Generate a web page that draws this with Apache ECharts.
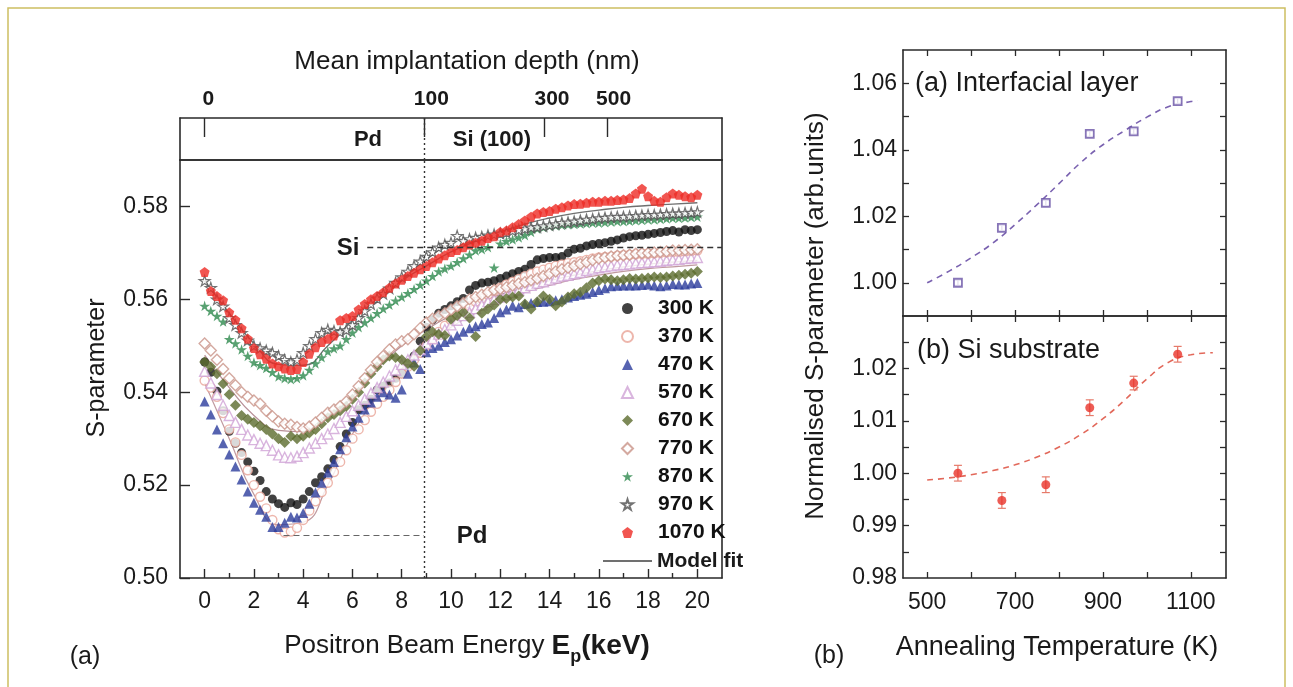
<!DOCTYPE html>
<html><head><meta charset="utf-8">
<script src="https://cdn.jsdelivr.net/npm/echarts@6/dist/echarts.min.js"></script>
<style>html,body{margin:0;padding:0;background:#fff}#c{width:1293px;height:687px}</style>
</head><body><div id="c"></div>
<script>
// ---------------- data: left panel ----------------
const energy = [0,0.25,0.5,0.75,1,1.25,1.5,1.75,2,2.25,2.5,2.75,3,3.25,3.5,3.75,4,4.25,4.5,4.75,5,5.25,5.5,5.75,6,6.25,6.5,6.75,7,7.25,7.5,7.75,8,8.25,8.5,8.75,9,9.25,9.5,9.75,10,10.25,10.5,10.75,11,11.25,11.5,11.75,12,12.25,12.5,12.75,13,13.25,13.5,13.75,14,14.25,14.5,14.75,15,15.25,15.5,15.75,16,16.25,16.5,16.75,17,17.25,17.5,17.75,18,18.25,18.5,18.75,19,19.25,19.5,19.75,20];

const s300 = [.5465,.5443,.5402,.5360, .5316,.5290,.5270,.5250, .5230,.5210,.5186,.5170, .5160,.5152,.5162,.5158, .5170,.5186,.5205,.5218, .5235,.5255,.5283,.5310, .5335,.5362,.5372,.5385, .5405,.5413,.5420,.5430, .5440,.5458,.5478,.5510, .5540,.5556,.5570,.5578, .5586,.5595,.5602,.5620, .5630,.5635,.5637,.5640, .5645,.5650,.5655,.5660, .5665,.5675,.5685,.5688, .5690,.5690,.5692,.5700, .5708,.5710,.5715,.5718, .5720,.5722,.5725,.5728, .5732,.5735,.5737,.5738, .5740,.5742,.5744,.5746, .5748,.5745,.5750,.5748, .5750];
const s370 = [.5425,.5410,.5390,.5355, .5320,.5292,.5265,.5232, .5200,.5175,.5150,.5125, .5105,.5098,.5100,.5108, .5125,.5145,.5165,.5185, .5205,.5228,.5250,.5275, .5300,.5320,.5340,.5358, .5375,.5390,.5405,.5422, .5440,.5455,.5470,.5485, .5500,.5515,.5530,.5543, .5555,.5565,.5575,.5585, .5595,.5602,.5610,.5618, .5625,.5632,.5638,.5644, .5650,.5655,.5660,.5664, .5668,.5672,.5675,.5678, .5680,.5682,.5685,.5688, .5690,.5691,.5692,.5694, .5695,.5696,.5697,.5698, .5698,.5699,.5700,.5701, .5702,.5702,.5703,.5704, .5705];
const s470 = [.5380,.5352,.5320,.5290, .5266,.5240,.5212,.5186, .5162,.5147,.5132,.5110, .5110,.5119,.5132,.5130, .5140,.5160,.5184,.5205, .5227,.5250,.5277,.5303, .5326,.5345,.5363,.5378, .5390,.5400,.5395,.5388, .5406,.5440,.5464,.5450, .5486,.5495,.5500,.5508, .5514,.5522,.5530,.5538, .5542,.5547,.5550,.5560, .5572,.5578,.5586,.5583, .5590,.5592,.5594,.5595, .5596,.5598,.5600,.5604, .5607,.5610,.5612,.5616, .5620,.5624,.5628,.5629, .5630,.5630,.5630,.5631, .5632,.5630,.5628,.5630, .5633,.5632,.5632,.5634, .5635];
const s570 = [.5445,.5420,.5395,.5372, .5350,.5335,.5320,.5308, .5298,.5290,.5285,.5275, .5265,.5260,.5259,.5262, .5270,.5280,.5290,.5300, .5310,.5322,.5335,.5348, .5360,.5372,.5385,.5398, .5410,.5422,.5435,.5448, .5460,.5470,.5480,.5492, .5505,.5515,.5525,.5535, .5545,.5555,.5565,.5572, .5580,.5588,.5595,.5600, .5605,.5610,.5615,.5620, .5625,.5630,.5635,.5638, .5642,.5646,.5650,.5652, .5655,.5658,.5662,.5665, .5668,.5670,.5672,.5674, .5675,.5676,.5678,.5679, .5680,.5681,.5682,.5684, .5685,.5686,.5688,.5689, .5690];
const s670 = [.5465,.5455,.5440,.5418, .5395,.5372,.5350,.5342, .5335,.5328,.5320,.5310, .5300,.5292,.5305,.5300, .5305,.5312,.5320,.5332, .5345,.5352,.5360,.5370, .5385,.5400,.5420,.5440, .5455,.5470,.5478,.5475, .5470,.5462,.5456,.5490, .5520,.5530,.5525,.5522, .5557,.5565,.5572,.5560, .5520,.5570,.5579,.5588, .5600,.5602,.5605,.5607, .5590,.5579,.5595,.5607, .5600,.5586,.5594,.5605, .5612,.5615,.5625,.5635, .5640,.5644,.5642,.5640, .5642,.5645,.5644,.5645, .5646,.5648,.5647,.5648, .5650,.5652,.5654,.5656, .5660];
const s770 = [.5505,.5490,.5470,.5450, .5430,.5415,.5400,.5390, .5382,.5375,.5360,.5348, .5337,.5332,.5330,.5325, .5322,.5326,.5335,.5345, .5356,.5363,.5370,.5380, .5395,.5413,.5430,.5448, .5465,.5478,.5492,.5503, .5510,.5514,.5525,.5538, .5550,.5558,.5564,.5570, .5578,.5585,.5592,.5600, .5605,.5610,.5615,.5620, .5622,.5626,.5630,.5634, .5637,.5641,.5645,.5650, .5655,.5660,.5665,.5668, .5672,.5676,.5680,.5684, .5688,.5690,.5692,.5694, .5695,.5696,.5698,.5699, .5700,.5701,.5702,.5703, .5705,.5705,.5706,.5707, .5708];
const s870 = [.5586,.5575,.5564,.5552, .5514,.5505,.5492,.5478, .5464,.5458,.5452,.5443, .5434,.5430,.5428,.5430, .5436,.5448,.5462,.5475, .5488,.5494,.5500,.5514, .5528,.5540,.5550,.5560, .5570,.5580,.5588,.5597, .5605,.5613,.5622,.5631, .5640,.5650,.5660,.5666, .5672,.5680,.5688,.5696, .5705,.5708,.5712,.5668, .5720,.5725,.5729,.5733, .5738,.5745,.5752,.5755, .5758,.5759,.5760,.5761, .5762,.5763,.5764,.5765, .5765,.5766,.5767,.5768, .5768,.5769,.5770,.5771, .5772,.5772,.5773,.5774, .5775,.5775,.5776,.5777, .5778];
const s970 = [.5640,.5625,.5600,.5585, .5560,.5545,.5528,.5512, .5500,.5495,.5490,.5485, .5478,.5470,.5465,.5470, .5485,.5500,.5515,.5528, .5535,.5532,.5530,.5534, .5545,.5560,.5575,.5590, .5602,.5612,.5624,.5636, .5648,.5660,.5672,.5682, .5692,.5702,.5712,.5718, .5722,.5737,.5726,.5730, .5733,.5735,.5738,.5740, .5742,.5744,.5748,.5750, .5752,.5755,.5756,.5758, .5760,.5762,.5765,.5766, .5768,.5770,.5772,.5773, .5775,.5776,.5777,.5778, .5778,.5779,.5780,.5781, .5782,.5782,.5783,.5784, .5785,.5785,.5786,.5787, .5788];
const s1070 = [.5659,.5618,.5607,.5598, .5572,.5556,.5538,.5515, .5495,.5482,.5472,.5462, .5456,.5451,.5448,.5450, .5465,.5483,.5497,.5508, .5515,.5522,.5555,.5560, .5564,.5578,.5590,.5600, .5607,.5615,.5625,.5634, .5642,.5650,.5657,.5665, .5672,.5680,.5688,.5695, .5702,.5706,.5712,.5718, .5722,.5726,.5732,.5736, .5745,.5748,.5755,.5762, .5770,.5778,.5785,.5788, .5790,.5795,.5798,.5802, .5805,.5806,.5808,.5810, .5810,.5812,.5812,.5814, .5815,.5818,.5828,.5838, .5822,.5812,.5810,.5820, .5828,.5825,.5822,.5820, .5825];

const fitEnergy = [0,1,2,3,4,5,6,7,8,9,10,11,12,13,14,15,16,17,18,19,20];
const fitHigh = [.5640,.5570,.5505,.5460,.5458,.5500,.5555,.5600,.5640,.5672,.5702,.5725,.5745,.5762,.5775,.5785,.5792,.5798,.5802,.5805,.5808];
const fitMid  = [.5480,.5410,.5350,.5318,.5315,.5345,.5390,.5450,.5500,.5535,.5565,.5590,.5610,.5625,.5640,.5652,.5662,.5670,.5676,.5680,.5684];
const fitLow  = [.5420,.5300,.5180,.5115,.5120,.5200,.5310,.5390,.5450,.5500,.5540,.5570,.5595,.5615,.5630,.5643,.5652,.5660,.5666,.5670,.5674];

const energyTicks = [0,2,4,6,8,10,12,14,16,18,20];
const energyMinor = [1,3,5,7,9,11,13,15,17,19];
const sTicks = [0.50,0.52,0.54,0.56,0.58];
const depthLabels = ['0','100','300','500'];
const depthTickE = [0,8.9,13.8,16.35];
const depthLabelE = [0.15,9.2,14.1,16.6];
const interfaceE = 8.9;
const siLevel = 0.5713;
const pdLevel = 0.5093;

// ---------------- data: right panel ----------------
const tempK = [570,670,770,870,970,1070];
const interfS = [1.0000,1.0165,1.0240,1.0448,1.0455,1.0546];
const interfErr = [0.0008,0.0008,0.0008,0.0008,0.0008,0.0008];
const substrS = [1.0000,0.9948,0.9978,1.0125,1.0172,1.0227];
const substrErr = [0.0015,0.0015,0.0015,0.0015,0.0013,0.0015];
const interfFitT = [500,550,600,650,700,750,800,850,900,950,1000,1050,1100,1115];
const interfFit  = [1.0000,1.0035,1.0075,1.0120,1.0175,1.0235,1.0298,1.0362,1.0415,1.0458,1.0498,1.0530,1.0545,1.0548];
const substrFitT = [500,550,600,650,700,750,800,850,900,950,1000,1050,1100,1150];
const substrFit  = [0.9987,0.9991,0.9997,1.0005,1.0016,1.0031,1.0050,1.0074,1.0104,1.0140,1.0180,1.0212,1.0226,1.0230];
const tempTicks = [500,600,700,800,900,1000,1100];
const tempLabels = [500,700,900,1100];

// ---------------- chart ----------------
const FF = '"Liberation Sans", Arial, Helvetica, sans-serif';
const AX = '#2a2a2a';
const chart = echarts.init(document.getElementById('c'));

const star = 'path://M50,0 L61,35 L98,35 L68,57 L79,91 L50,70 L21,91 L32,57 L2,35 L39,35 Z';
const pent = 'path://M50,0 L100,38 L81,100 L19,100 L0,38 Z';

function pts(xs, ys){ return xs.map((x,i)=>[x, ys[i]]); }

const scatterDefs = [
  ['300 K', s300, 'circle', 9, {color:'#111'}],
  ['370 K', s370, 'circle', 9, {color:'#fff', borderColor:'#e9a497', borderWidth:1.4}],
  ['470 K', s470, 'triangle', 10, {color:'#2c3c9c'}],
  ['570 K', s570, 'triangle', 10, {color:'#fff', borderColor:'#cfa3d6', borderWidth:1.4}],
  ['670 K', s670, 'diamond', 11, {color:'#5b6c2d'}],
  ['770 K', s770, 'diamond', 11, {color:'#fff', borderColor:'#c99488', borderWidth:1.4}],
  ['870 K', s870, star, 11, {color:'#2e8a4d'}],
  ['970 K', s970, star, 11, {color:'#fff', borderColor:'#505050', borderWidth:1.2}],
  ['1070 K', s1070, pent, 10, {color:'#ee2b24'}]
];

const series = [];
// model fit lines
series.push({type:'line', name:'Model fit', xAxisIndex:0, yAxisIndex:0, data:pts(fitEnergy, fitHigh), smooth:true, symbol:'none', lineStyle:{color:'#707070', width:1.4}, itemStyle:{color:'#707070'}, z:1});
series.push({type:'line', name:'fitMid', xAxisIndex:0, yAxisIndex:0, data:pts(fitEnergy, fitMid), smooth:true, symbol:'none', lineStyle:{color:'#b89098', width:1.2}, z:1});
series.push({type:'line', name:'fitLow', xAxisIndex:0, yAxisIndex:0, data:pts(fitEnergy, fitLow), smooth:true, symbol:'none', lineStyle:{color:'#c09aa0', width:1.2}, z:1});

scatterDefs.forEach(d=>{
  series.push({type:'scatter', name:d[0], xAxisIndex:0, yAxisIndex:0, data:pts(energy, d[1]), symbol:d[2], symbolSize:d[3], symbolKeepAspect:true, itemStyle:d[4], z:2});
});

// annotation lines in main panel
series.push({type:'line', name:'annot', xAxisIndex:0, yAxisIndex:0, data:[], silent:true,
  markLine:{silent:true, symbol:'none', label:{show:false}, animation:false,
    data:[
      [{coord:[interfaceE,0.50], lineStyle:{type:[2,3], color:'#333', width:1.4}}, {coord:[interfaceE,0.59]}],
      [{coord:[6.6,siLevel], lineStyle:{type:[6,4], color:'#333', width:1.4}}, {coord:[21,siLevel]}],
      [{coord:[3.2,pdLevel], lineStyle:{type:[6,4], color:'#666', width:1.2}}, {coord:[interfaceE,pdLevel]}]
    ]}});
// dotted line in the depth box
series.push({type:'line', name:'annot2', xAxisIndex:3, yAxisIndex:2, data:[], silent:true,
  markLine:{silent:true, symbol:'none', label:{show:false}, animation:false,
    data:[[{coord:[interfaceE,0], lineStyle:{type:[2,3], color:'#333', width:1.4}}, {coord:[interfaceE,1]}]]}});

// right panels
function errItem(params, api){
  const x = api.value(0), lo = api.value(1), hi = api.value(2);
  const p1 = api.coord([x, lo]), p2 = api.coord([x, hi]);
  const w = 4, st = {stroke: api.visual('color'), lineWidth: 1.2};
  return {type:'group', children:[
    {type:'line', shape:{x1:p1[0],y1:p1[1],x2:p2[0],y2:p2[1]}, style:st},
    {type:'line', shape:{x1:p1[0]-w,y1:p1[1],x2:p1[0]+w,y2:p1[1]}, style:st},
    {type:'line', shape:{x1:p2[0]-w,y1:p2[1],x2:p2[0]+w,y2:p2[1]}, style:st}]};
}
series.push({type:'line', name:'interfFit', xAxisIndex:5, yAxisIndex:4, data:pts(interfFitT, interfFit), smooth:true, symbol:'none', lineStyle:{color:'#7a62b0', width:1.6, type:[6,5]}, z:1});
series.push({type:'custom', name:'interfErr', xAxisIndex:5, yAxisIndex:4, renderItem:errItem, itemStyle:{color:'#6a54a6'}, encode:{x:0,y:[1,2]},
  data: tempK.map((t,i)=>[t, interfS[i]-interfErr[i], interfS[i]+interfErr[i]]), z:2});
series.push({type:'scatter', name:'interf', xAxisIndex:5, yAxisIndex:4, data:pts(tempK, interfS), symbol:'rect', symbolSize:8, itemStyle:{color:'#fff', borderColor:'#6a54a6', borderWidth:1.8}, z:3});

series.push({type:'line', name:'substrFit', xAxisIndex:7, yAxisIndex:6, data:pts(substrFitT, substrFit), smooth:true, symbol:'none', lineStyle:{color:'#e2685a', width:1.6, type:[6,5]}, z:1});
series.push({type:'custom', name:'substrErr', xAxisIndex:7, yAxisIndex:6, renderItem:errItem, itemStyle:{color:'#e67a6a'}, encode:{x:0,y:[1,2]},
  data: tempK.map((t,i)=>[t, substrS[i]-substrErr[i], substrS[i]+substrErr[i]]), z:2});
series.push({type:'scatter', name:'substr', xAxisIndex:7, yAxisIndex:6, data:pts(tempK, substrS), symbol:'circle', symbolSize:9, itemStyle:{color:'#e8332a'}, z:3});

const lineAx = {show:true, onZero:false, lineStyle:{color:AX, width:1.6}};
const noSplit = {show:false};
function blankAxis(extra){
  return Object.assign({type:'value', axisLine:lineAx, axisTick:{show:false}, axisLabel:{show:false}, splitLine:noSplit}, extra);
}
const lab = (size, extra)=>Object.assign({color:'#1a1a1a', fontFamily:FF, fontSize:size}, extra||{});

const xAxis = [
  // 0 main bottom
  {type:'value', gridIndex:0, position:'bottom', min:-1, max:21, axisLine:lineAx, splitLine:noSplit,
   axisTick:{show:true, inside:true, length:9, customValues:energyTicks, lineStyle:{color:AX, width:1.4}},
   axisLabel:Object.assign(lab(23), {margin:12, customValues:energyTicks, formatter:v=>String(Math.round(v))})},
  // 1 main bottom minor
  {type:'value', gridIndex:0, position:'bottom', min:-1, max:21, axisLine:{show:false, onZero:false}, splitLine:noSplit,
   axisTick:{show:true, inside:true, length:5, customValues:energyMinor, lineStyle:{color:AX, width:1.4}}, axisLabel:{show:false}},
  // 2 main top line
  blankAxis({gridIndex:0, position:'top', min:-1, max:21}),
  // 3 depth box top
  {type:'value', gridIndex:1, position:'top', min:-1, max:21, axisLine:lineAx, splitLine:noSplit,
   axisTick:{show:true, inside:true, length:19, customValues:depthTickE, lineStyle:{color:AX, width:1.4}},
   axisLabel:Object.assign(lab(21, {fontWeight:'bold'}), {margin:8, customValues:depthLabelE,
     formatter:v=>{const i=depthLabelE.findIndex(e=>Math.abs(e-v)<1e-6); return i>=0?depthLabels[i]:'';}})},
  // 4 depth box bottom
  blankAxis({gridIndex:1, position:'bottom', min:-1, max:21}),
  // 5 right upper bottom
  {type:'value', gridIndex:2, position:'bottom', min:445, max:1180, axisLine:lineAx, splitLine:noSplit,
   axisTick:{show:true, inside:true, length:6, customValues:tempTicks, lineStyle:{color:AX, width:1.3}}, axisLabel:{show:false}},
  // 6 right upper top
  {type:'value', gridIndex:2, position:'top', min:445, max:1180, axisLine:lineAx, splitLine:noSplit,
   axisTick:{show:true, inside:true, length:6, customValues:tempTicks, lineStyle:{color:AX, width:1.3}}, axisLabel:{show:false}},
  // 7 right lower bottom
  {type:'value', gridIndex:3, position:'bottom', min:445, max:1180, axisLine:lineAx, splitLine:noSplit,
   axisTick:{show:true, inside:true, length:6, customValues:tempTicks, lineStyle:{color:AX, width:1.3}},
   axisLabel:Object.assign(lab(23), {margin:13, customValues:tempLabels, formatter:v=>String(Math.round(v))})},
  // 8 right lower top
  {type:'value', gridIndex:3, position:'top', min:445, max:1180, axisLine:lineAx, splitLine:noSplit,
   axisTick:{show:true, inside:true, length:6, customValues:tempTicks, lineStyle:{color:AX, width:1.3}}, axisLabel:{show:false}}
];

const upTicks = [1.00,1.01,1.02,1.03,1.04,1.05,1.06];
const upLabels = [1.00,1.02,1.04,1.06];
const loTicks = [0.985,0.99,0.995,1.00,1.005,1.01,1.015,1.02,1.025];
const loLabels = [0.98,0.99,1.00,1.01,1.02];

const yAxis = [
  // 0 main left
  {type:'value', gridIndex:0, position:'left', min:0.50, max:0.59, axisLine:lineAx, splitLine:noSplit,
   axisTick:{show:true, inside:true, length:10, customValues:sTicks, lineStyle:{color:AX, width:1.4}},
   axisLabel:Object.assign(lab(23), {margin:12, customValues:sTicks, formatter:v=>v.toFixed(2)})},
  // 1 main right
  blankAxis({gridIndex:0, position:'right', min:0.50, max:0.59}),
  // 2 box left
  blankAxis({gridIndex:1, position:'left', min:0, max:1}),
  // 3 box right
  blankAxis({gridIndex:1, position:'right', min:0, max:1}),
  // 4 right upper left
  {type:'value', gridIndex:2, position:'left', min:0.99, max:1.07, axisLine:lineAx, splitLine:noSplit,
   axisTick:{show:true, inside:true, length:6, customValues:upTicks, lineStyle:{color:AX, width:1.3}},
   axisLabel:Object.assign(lab(23), {margin:6, customValues:upLabels, formatter:v=>v.toFixed(2)})},
  // 5 right upper right
  {type:'value', gridIndex:2, position:'right', min:0.99, max:1.07, axisLine:lineAx, splitLine:noSplit,
   axisTick:{show:true, inside:true, length:6, customValues:upTicks, lineStyle:{color:AX, width:1.3}}, axisLabel:{show:false}},
  // 6 right lower left
  {type:'value', gridIndex:3, position:'left', min:0.98, max:1.03, axisLine:lineAx, splitLine:noSplit,
   axisTick:{show:true, inside:true, length:6, customValues:loTicks, lineStyle:{color:AX, width:1.3}},
   axisLabel:Object.assign(lab(23), {margin:6, customValues:loLabels, formatter:v=>v.toFixed(2)})},
  // 7 right lower right
  {type:'value', gridIndex:3, position:'right', min:0.98, max:1.03, axisLine:lineAx, splitLine:noSplit,
   axisTick:{show:true, inside:true, length:6, customValues:loTicks, lineStyle:{color:AX, width:1.3}}, axisLabel:{show:false}}
];

function txt(x, y, text, size, opts){
  opts = opts || {};
  return {type:'text', x:x, y:y, rotation:opts.rot||0, silent:true, z:50,
    style:{text:text, fontFamily:FF, fontSize:size, fontWeight:opts.bold?'bold':'normal', fill:'#1a1a1a',
      textAlign:opts.align||'center', textVerticalAlign:'middle', rich:opts.rich}};
}

const legendRow0 = 309, legendStep = 28;
const graphic = [
  {type:'rect', silent:true, z:-10, shape:{x:8, y:8, width:1277, height:700}, style:{fill:'none', stroke:'#cdbf62', lineWidth:1.5}},
  txt(467, 62, 'Mean implantation depth (nm)', 26),
  txt(368, 140, 'Pd', 22, {bold:true}),
  txt(492, 140, 'Si (100)', 22, {bold:true}),
  txt(348, 248, 'Si', 24, {bold:true}),
  txt(472, 536, 'Pd', 24, {bold:true}),
  txt(97, 368, 'S-parameter', 25, {rot:Math.PI/2}),
  txt(467, 646, '{a|Positron Beam Energy }{b|E}{s|p}{b|(keV)}', 26, {rich:{
    a:{fontFamily:FF, fontSize:26, fill:'#1a1a1a', lineHeight:40},
    b:{fontFamily:FF, fontSize:28, fontWeight:'bold', fill:'#1a1a1a', lineHeight:40},
    s:{fontFamily:FF, fontSize:18, fontWeight:'bold', fill:'#1a1a1a', verticalAlign:'bottom', lineHeight:40}}}),
  txt(85, 657, '(a)', 25),
  txt(829, 656, '(b)', 25),
  txt(915, 84, '(a) Interfacial layer', 27, {align:'left'}),
  txt(917, 351, '(b) Si substrate', 27, {align:'left'}),
  txt(816, 316, 'Normalised S-parameter (arb.units)', 26, {rot:Math.PI/2}),
  txt(1057, 648, 'Annealing Temperature (K)', 27),
  // "Model fit" legend row
  {type:'line', silent:true, z:50, shape:{x1:603, y1:legendRow0+9*legendStep, x2:652, y2:legendRow0+9*legendStep}, style:{stroke:'#707070', lineWidth:1.8}},
  txt(657, legendRow0+9*legendStep, 'Model fit', 21, {bold:true, align:'left'})
];

chart.setOption({
  animation:false,
  backgroundColor:'#fff',
  grid:[
    {left:180, top:160, width:542, height:418},
    {left:180, top:118, width:542, height:42},
    {left:903, top:50, width:323, height:266},
    {left:903, top:316, width:323, height:262}
  ],
  xAxis:xAxis,
  yAxis:yAxis,
  legend:{orient:'vertical', left:621, top:legendRow0-11, padding:0, itemWidth:11, itemHeight:11, itemGap:7,
    selectedMode:false, symbolKeepAspect:true,
    textStyle:{fontFamily:FF, fontWeight:'bold', fontSize:21, color:'#111', padding:[0,0,0,20]},
    data:['300 K','370 K','470 K','570 K','670 K','770 K','870 K','970 K','1070 K']},
  series:series,
  graphic:graphic
});
</script>
</body></html>
